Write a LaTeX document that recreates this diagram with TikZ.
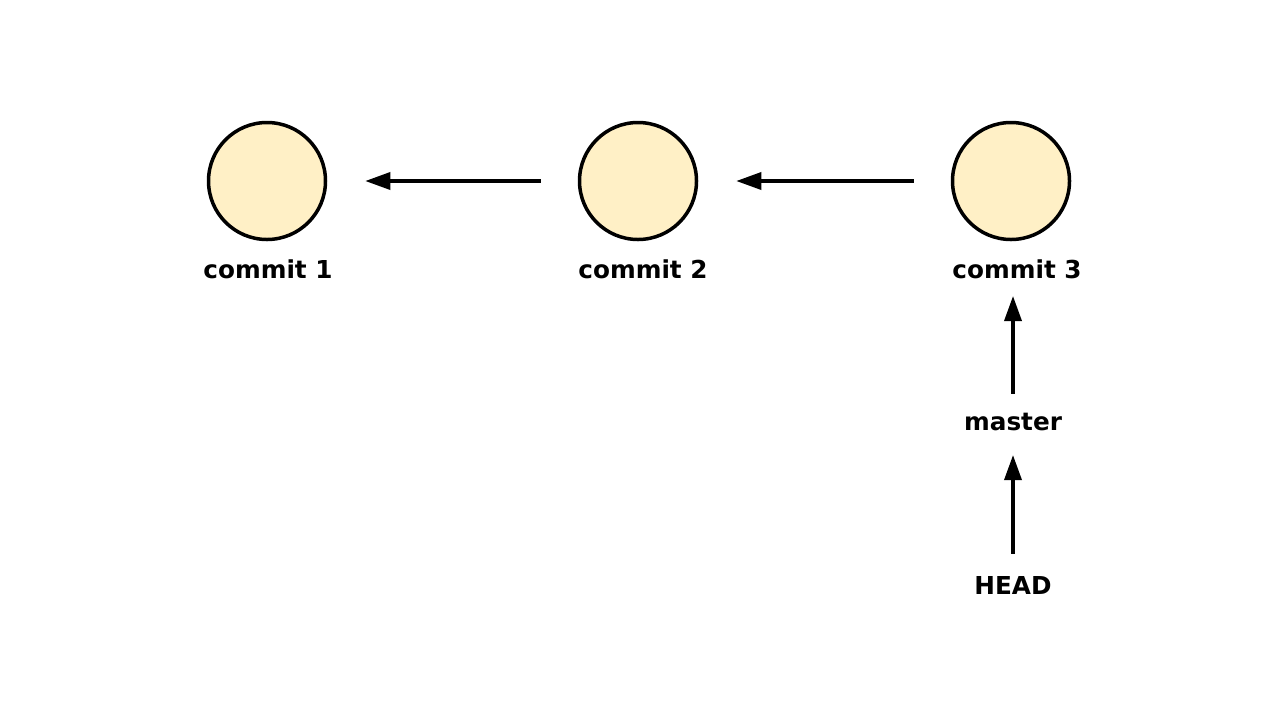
\documentclass[tikz,border=0pt]{standalone}
\usepackage{fontspec}
\setmainfont{DejaVu Sans}
\usetikzlibrary{arrows.meta}

\definecolor{commitfill}{RGB}{255,240,198}

\tikzset{
  commit/.style={circle, draw=black, line width=3.5pt, fill=commitfill, minimum size=117pt, inner sep=0pt},
  label/.style={font=\fontsize{24.7}{28}\selectfont\bfseries, inner sep=0pt},
  ref/.style={line width=3.5pt, -{Triangle[length=25pt,width=17pt]}}
}

\begin{document}
\begin{tikzpicture}[x=1pt,y=-1pt]
\useasboundingbox (0,0) rectangle (1276,716);

% commits
\node[commit] (c1) at (267,181) {};
\node[commit] (c2) at (638,181) {};
\node[commit] (c3) at (1011,181) {};

% Text Node
\node[label] (l1) at (268,269) {commit 1};
\node[label] (l2) at (643,269) {commit 2};
\node[label] (l3) at (1017,269) {commit 3};
\node[label] (master) at (1013,422) {master};
\node[label] (head) at (1013,585) {HEAD};

% parent links
\draw[ref, shorten <=37pt, shorten >=38pt] (c2) -- (c1);
\draw[ref, shorten <=37pt, shorten >=38pt] (c3) -- (c2);

% refs
\draw[ref, shorten <=19pt, shorten >=27pt] (master) -- (master |- l3);
\draw[ref, shorten <=22pt, shorten >=24pt] (head) -- (master);

\end{tikzpicture}
\end{document}
